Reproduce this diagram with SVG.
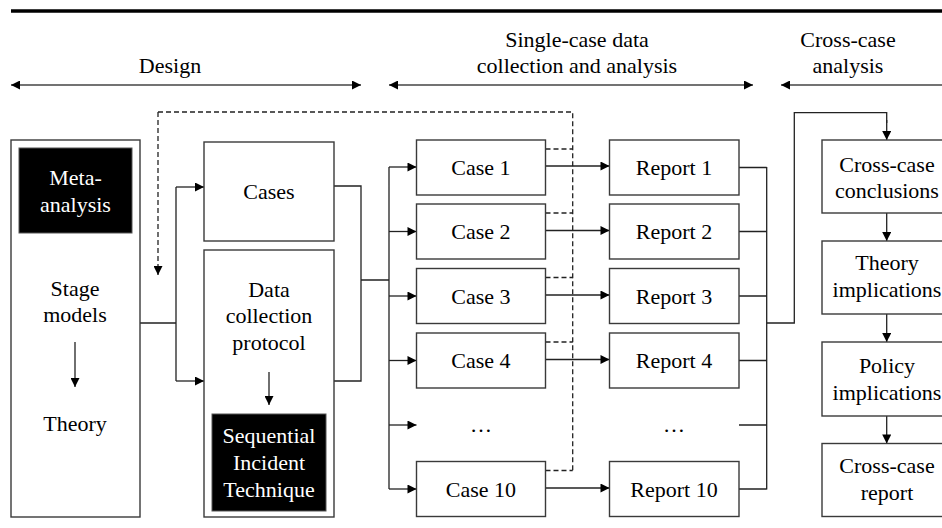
<svg xmlns="http://www.w3.org/2000/svg" width="942" height="528" viewBox="0 0 942 528" font-family="'Liberation Serif', 'Times New Roman', Tinos, 'Noto Serif', 'DejaVu Serif', serif">
<style>
text{font-family:'Liberation Serif','Times New Roman',Tinos,'Noto Serif','DejaVu Serif',serif;font-size:22px;fill:#000;text-anchor:middle}
text.w{fill:#fff}
.box{fill:#fff;stroke:#3a3a3a;stroke-width:1.4}
.blk{fill:#000;stroke:#555;stroke-width:1}
.ln{fill:none;stroke:#222;stroke-width:1.3}
.ar{fill:none;stroke:#222;stroke-width:1.3;marker-end:url(#ah)}
.hd{fill:none;stroke:#444;stroke-width:1.4;marker-end:url(#ah);marker-start:url(#ah)}
.ds{fill:none;stroke:#222;stroke-width:1.3;stroke-dasharray:5,3}
</style>
<defs>
<marker id="ah" viewBox="0 0 10 10" refX="10" refY="5" markerWidth="10" markerHeight="9" markerUnits="userSpaceOnUse" orient="auto-start-reverse">
<path d="M0,0 L10,5 L0,10 z" fill="#000"/>
</marker>
</defs>
<line x1="11" y1="11" x2="942" y2="11" stroke="#000" stroke-width="3.5"/>
<g id="headers">
<path class="hd" d="M11,85 H361"/>
<path class="hd" d="M389,85 H753"/>
<path class="hd" d="M781,85 H952"/>
<text x="170" y="73">Design</text>
<text x="577" y="47">Single-case data</text>
<text x="577" y="73">collection and analysis</text>
<text x="848" y="47">Cross-case</text>
<text x="848" y="73">analysis</text>
</g>
<g id="connectors">
<path class="ds" d="M158,112 H572.7 V470.5"/>
<path class="ds" d="M158,112 V275" marker-end="url(#ah)"/>
<path class="ds" d="M545.5,149 H572.7 M545.5,213 H572.7 M545.5,277.5 H572.7 M545.5,342 H572.7 M545.5,470.5 H572.7"/>
<path class="ln" d="M140,323 H176 M176,187 V381"/>
<path class="ar" d="M176,187 H204"/>
<path class="ar" d="M176,381 H204"/>
<path class="ln" d="M334,186 H361 V381 H334 M361,280 H389 M389,167 V489"/>
<path class="ar" d="M389,167 H416.5"/>
<path class="ar" d="M389,231.5 H416.5"/>
<path class="ar" d="M389,296 H416.5"/>
<path class="ar" d="M389,360.5 H416.5"/>
<path class="ar" d="M389,425 H416.5"/>
<path class="ar" d="M389,489 H416.5"/>
<path class="ar" d="M545.5,166 H609.5"/>
<path class="ar" d="M545.5,230.5 H609.5"/>
<path class="ar" d="M545.5,295 H609.5"/>
<path class="ar" d="M545.5,359.5 H609.5"/>
<path class="ar" d="M545.5,488 H609.5"/>
<path class="ln" d="M739,167.5 H766.7 M739,231.5 H766.7 M739,296 H766.7 M739,360.5 H766.7 M739,425 H766.7 M739,489 H766.7 M766.7,167 V489.5 M766.7,323 H794.3 V112.7 H886.7 V123"/>
<path class="ar" d="M886.7,120 V140"/>
<path class="ar" d="M886.7,213 V241"/>
<path class="ar" d="M886.7,314 V342"/>
<path class="ar" d="M886.7,416 V443.5"/>
</g>
<g id="n-left">
<rect class="box" x="11" y="140" width="129" height="377"/>
<rect class="blk" x="19" y="148" width="113" height="85"/>
<text class="w" x="75.5" y="185">Meta-</text>
<text class="w" x="75.5" y="212">analysis</text>
<text x="75" y="296">Stage</text>
<text x="75" y="322">models</text>
<path class="ar" d="M75,342 V387"/>
<text x="75" y="431">Theory</text>
</g>
<g id="n-cases">
<rect class="box" x="204" y="142" width="130" height="99"/>
<text x="269" y="199">Cases</text>
</g>
<g id="n-protocol">
<rect class="box" x="204" y="250" width="130" height="267"/>
<text x="269" y="297">Data</text>
<text x="269" y="323">collection</text>
<text x="269" y="350">protocol</text>
<path class="ar" d="M269,372 V405"/>
<rect class="blk" x="212" y="414" width="114" height="97"/>
<text class="w" x="269" y="443">Sequential</text>
<text class="w" x="269" y="470">Incident</text>
<text class="w" x="269" y="497">Technique</text>
</g>
<g id="n-case1"><rect class="box" x="416.5" y="140" width="129" height="55"/><text x="481" y="175">Case 1</text></g>
<g id="n-case2"><rect class="box" x="416.5" y="204" width="129" height="55"/><text x="481" y="239">Case 2</text></g>
<g id="n-case3"><rect class="box" x="416.5" y="268.5" width="129" height="55"/><text x="481" y="303.5">Case 3</text></g>
<g id="n-case4"><rect class="box" x="416.5" y="333" width="129" height="55"/><text x="481" y="368">Case 4</text></g>
<g id="n-casedots"><text x="481" y="432">…</text></g>
<g id="n-case10"><rect class="box" x="416.5" y="461.5" width="129" height="55"/><text x="481" y="496.5">Case 10</text></g>
<g id="n-rep1"><rect class="box" x="609.5" y="140" width="129.5" height="55"/><text x="674" y="175">Report 1</text></g>
<g id="n-rep2"><rect class="box" x="609.5" y="204" width="129.5" height="55"/><text x="674" y="239">Report 2</text></g>
<g id="n-rep3"><rect class="box" x="609.5" y="268.5" width="129.5" height="55"/><text x="674" y="303.5">Report 3</text></g>
<g id="n-rep4"><rect class="box" x="609.5" y="333" width="129.5" height="55"/><text x="674" y="368">Report 4</text></g>
<g id="n-repdots"><text x="674" y="432">…</text></g>
<g id="n-rep10"><rect class="box" x="609.5" y="461.5" width="129.5" height="55"/><text x="674" y="496.5">Report 10</text></g>
<g id="n-conclusions"><rect class="box" x="822" y="140" width="130" height="73"/><text x="887" y="172">Cross-case</text><text x="887" y="198">conclusions</text></g>
<g id="n-theory"><rect class="box" x="822" y="241" width="130" height="73"/><text x="887" y="270">Theory</text><text x="887" y="297">implications</text></g>
<g id="n-policy"><rect class="box" x="822" y="342" width="130" height="74"/><text x="887" y="373">Policy</text><text x="887" y="400">implications</text></g>
<g id="n-report"><rect class="box" x="822" y="443.5" width="130" height="73"/><text x="887" y="473">Cross-case</text><text x="887" y="500">report</text></g>
</svg>
